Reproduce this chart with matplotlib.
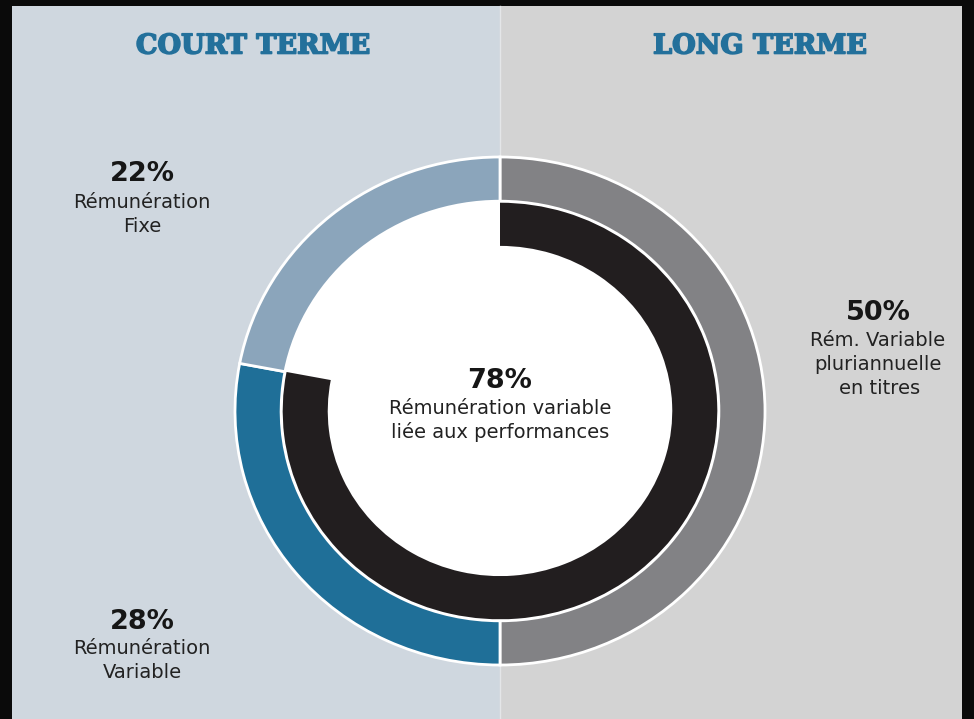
import matplotlib.pyplot as plt
import matplotlib.patheffects as pe
from matplotlib.patches import Rectangle, Circle

# remuneration split (percent)
outer_labels = ['Rém. Variable pluriannuelle en titres', 'Rémunération Variable', 'Rémunération Fixe']
outer_shares = [50, 28, 22]
outer_colors = ['#828285', '#1f6f98', '#8ba5bb']
perf_share = 78  # variable part linked to performance

W, H = 974, 719
fig = plt.figure(figsize=(W / 100, H / 100), dpi=100, facecolor='#0a0a0a')

# background axes in pixel units
bg = fig.add_axes([0, 0, 1, 1])
bg.set_xlim(0, W)
bg.set_ylim(H, 0)
bg.axis('off')
bg.add_patch(Rectangle((12, 6), 488, H - 6, color='#cfd7df', lw=0))
bg.add_patch(Rectangle((500, 6), 462, H - 6, color='#d3d3d3', lw=0))
bg.plot([500, 500], [6, H], color='#e4e6e8', lw=1)

# donut axes: centre (500, 411) px, radii 265 x 254 px
cx, cy, rx, ry = 500, 411, 265, 254
m = 1.05
ax = fig.add_axes([(cx - rx * m) / W, 1 - (cy + ry * m) / H, 2 * rx * m / W, 2 * ry * m / H])
ax.add_patch(Circle((0, 0), 0.826, color='white', lw=0))
ax.pie(outer_shares, colors=outer_colors, startangle=90, counterclock=False, radius=1.0,
       wedgeprops=dict(width=0.174, edgecolor='white', linewidth=2))
ax.pie([perf_share, 100 - perf_share], colors=['#221e1f', 'none'], startangle=90,
       counterclock=False, radius=0.82,
       wedgeprops=dict(width=0.17, edgecolor='none', linewidth=0))
ax.set_xlim(-m, m)
ax.set_ylim(-m, m)
ax.set_aspect('auto')
ax.axis('off')

# text layer on top, pixel units again
tx = fig.add_axes([0, 0, 1, 1])
tx.set_xlim(0, W)
tx.set_ylim(H, 0)
tx.axis('off')
tx.patch.set_alpha(0)

head = dict(color='#23709b', fontsize=19.5, fontweight='bold', family='DejaVu Serif',
            ha='center', va='center',
            path_effects=[pe.withStroke(linewidth=1.2, foreground='#23709b')])
tx.text(253, 46, 'COURT TERME', **head)
tx.text(760, 46, 'LONG TERME', **head)

pct = dict(fontsize=19.5, fontweight='bold', color='#161616', ha='center', va='center')
lab = dict(fontsize=14, color='#222222', ha='center', va='center')

tx.text(142, 174, f'{outer_shares[2]}%', **pct)
tx.text(142, 202, 'Rémunération', **lab)
tx.text(142, 226, 'Fixe', **lab)

tx.text(142, 622, f'{outer_shares[1]}%', **pct)
tx.text(142, 649, 'Rémunération', **lab)
tx.text(142, 673, 'Variable', **lab)

tx.text(878, 313, f'{outer_shares[0]}%', **pct)
tx.text(878, 340, 'Rém. Variable', **lab)
tx.text(878, 364, 'pluriannuelle', **lab)
tx.text(880, 388, 'en titres', **lab)

tx.text(500, 381, f'{perf_share}%', **pct)
tx.text(500, 408, 'Rémunération variable', **lab)
tx.text(500, 432, 'liée aux performances', **lab)

fig.savefig('out.png', dpi=100, facecolor=fig.get_facecolor())
